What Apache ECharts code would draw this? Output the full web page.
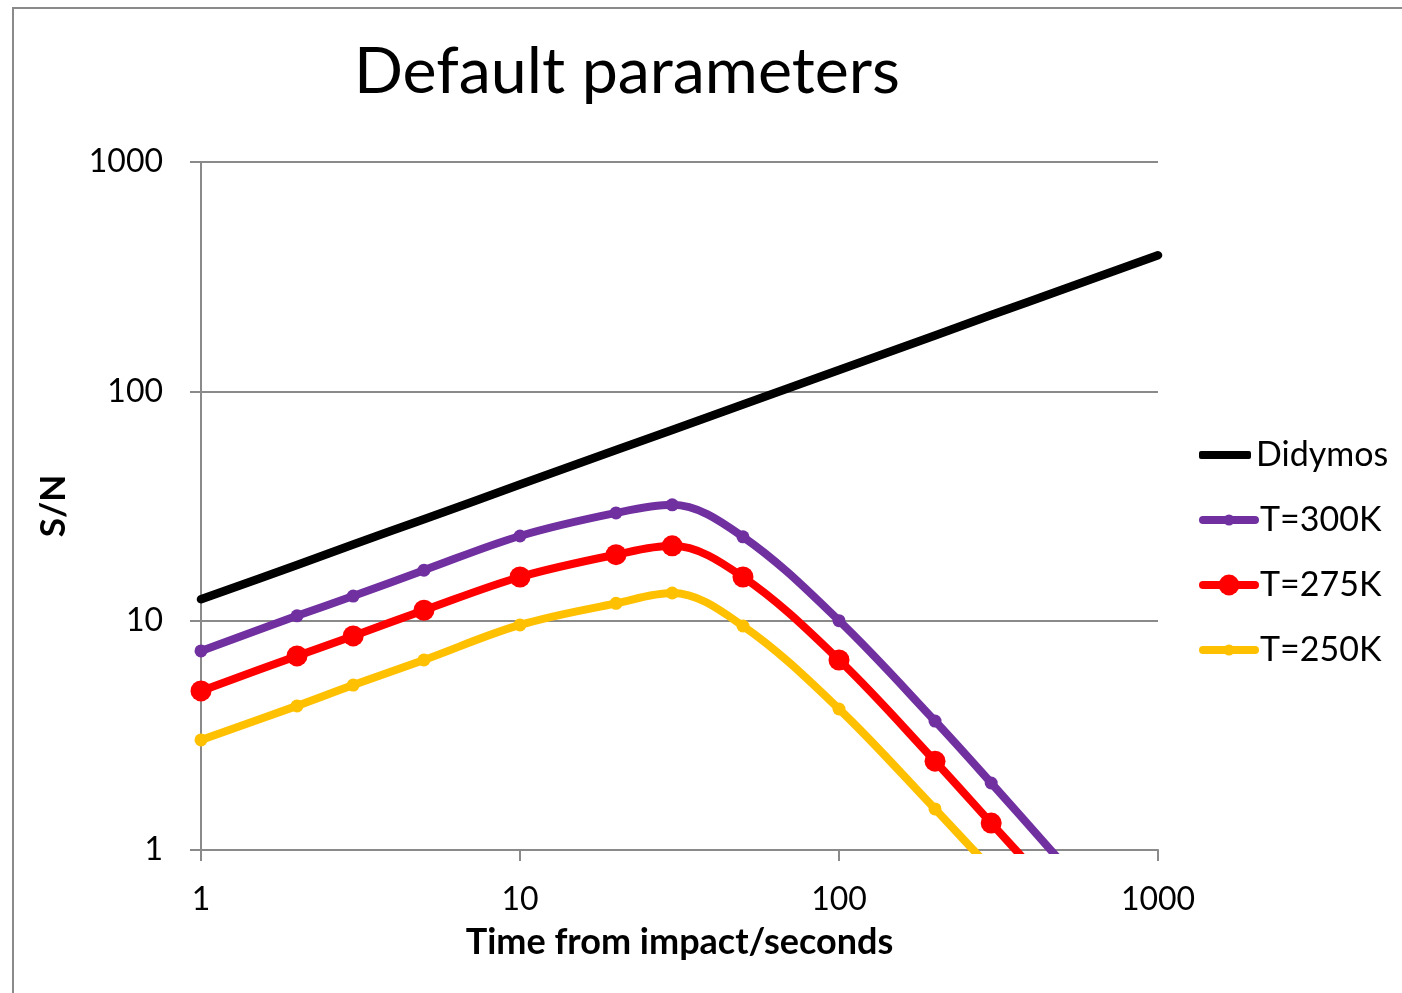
<!DOCTYPE html>
<html><head><meta charset="utf-8">
<script src="https://cdn.jsdelivr.net/npm/echarts@6/dist/echarts.min.js"></script>
<style>html,body{margin:0;padding:0;background:#fff}#c{width:1402px;height:993px}</style>
</head><body><div id="c"></div>
<script>
// Data
const times = [1, 2, 3, 5, 10, 20, 30, 50, 100, 200, 300, 500];
const didymosTimes = [1, 2, 3, 5, 10, 20, 30, 50, 100, 200, 300, 500, 1000];
const didymos = [12.4, 17.5, 21.5, 27.7, 39.2, 55.5, 67.9, 87.7, 124, 175, 215, 277, 392];
const t300 = [7.38, 10.5, 12.8, 16.6, 23.4, 29.5, 32.0, 23.2, 10.0, 3.65, 1.96, 0.88];
const t275 = [4.94, 7.02, 8.58, 11.1, 15.5, 19.4, 21.2, 15.5, 6.74, 2.44, 1.31, 0.60];
const t250 = [3.02, 4.25, 5.24, 6.74, 9.58, 11.9, 13.2, 9.48, 4.12, 1.51, 0.83, 0.42];
const seriesNames = ['Didymos', 'T=300K', 'T=275K', 'T=250K'];
const titleText = 'Default parameters';
const xName = 'Time from impact/seconds';
const yName = 'S/N';

const FONT = 'Lato, "Liberation Sans", sans-serif';
const GRAY = '#8a8a8a';
const pairs = (xs, ys) => xs.map((x, i) => [x, ys[i]]);

const chart = echarts.init(document.getElementById('c'), null, {renderer: 'canvas'});
const lineSeries = (name, xs, ys, color, width, symSize) => ({
  name, type: 'line', data: pairs(xs, ys), smooth: 0.35, clip: true,
  symbol: symSize ? 'circle' : 'none', symbolSize: symSize || 0, showSymbol: !!symSize,
  lineStyle: {color, width, cap: 'round', join: 'round'}, itemStyle: {color}, emphasis: {disabled: true}, z: 3
});
const legendItem = (name, center, h, color, noSymbol) => ({
  data: [noSymbol
    ? {name, icon: 'roundRect', itemStyle: {color}}
    : {name, lineStyle: {width: 8, color, cap: 'round'}, itemStyle: {color}}],
  orient: 'vertical', left: 1199, top: center - 20,
  itemWidth: 52, itemHeight: h, itemGap: 0, padding: 0, itemTextGap: 1,
  textStyle: {fontFamily: FONT, fontSize: 34, lineHeight: 40, color: '#000'},
  selectedMode: false
});

chart.setOption({
  animation: false,
  backgroundColor: '#fff',
  graphic: [
    {type: 'rect', shape: {x: 13, y: 8, width: 2000, height: 2000},
     style: {fill: 'none', stroke: GRAY, lineWidth: 2}, silent: true, z: -1},
    {type: 'text', x: 627, y: 72, silent: true,
     style: {text: titleText, fontFamily: FONT, fontSize: 64.5, fill: '#000', align: 'center', verticalAlign: 'middle'}}
  ],
  grid: {left: 201, top: 162, right: 244, bottom: 143, containLabel: false},
  legend: [
    legendItem(seriesNames[0], 455, 8, '#000000', true),
    legendItem(seriesNames[1], 520, 14, '#7030A0'),
    legendItem(seriesNames[2], 585, 26, '#FF0000'),
    legendItem(seriesNames[3], 650, 14, '#FFC000')
  ],
  xAxis: {
    type: 'log', logBase: 10, min: 1, max: 1000,
    name: xName, nameLocation: 'middle', nameGap: 74,
    nameTextStyle: {fontFamily: FONT, fontSize: 36, fontWeight: 'bold', color: '#000'},
    axisLine: {show: true, lineStyle: {color: GRAY, width: 2}},
    axisTick: {show: true, length: 11, inside: false, lineStyle: {color: GRAY, width: 2}},
    minorTick: {show: false},
    splitLine: {show: false},
    axisLabel: {fontFamily: FONT, fontSize: 32, color: '#000', margin: 34, formatter: v => String(v)}
  },
  yAxis: {
    type: 'log', logBase: 10, min: 1, max: 1000,
    name: yName, nameLocation: 'middle', nameGap: 130, nameRotate: 90,
    nameTextStyle: {fontFamily: FONT, fontSize: 35, fontWeight: 'bold', color: '#000'},
    axisLine: {show: true, lineStyle: {color: GRAY, width: 2}},
    axisTick: {show: true, length: 11, inside: false, lineStyle: {color: GRAY, width: 2}},
    minorTick: {show: false},
    splitLine: {show: true, lineStyle: {color: GRAY, width: 2}},
    axisLabel: {fontFamily: FONT, fontSize: 32, color: '#000', margin: 38, formatter: v => String(v)}
  },
  series: [
    lineSeries(seriesNames[0], didymosTimes, didymos, '#000000', 8.5, 0),
    lineSeries(seriesNames[1], times, t300, '#7030A0', 8, 13),
    lineSeries(seriesNames[2], times, t275, '#FF0000', 8, 21),
    lineSeries(seriesNames[3], times, t250, '#FFC000', 8, 13)
  ]
});
</script></body></html>
